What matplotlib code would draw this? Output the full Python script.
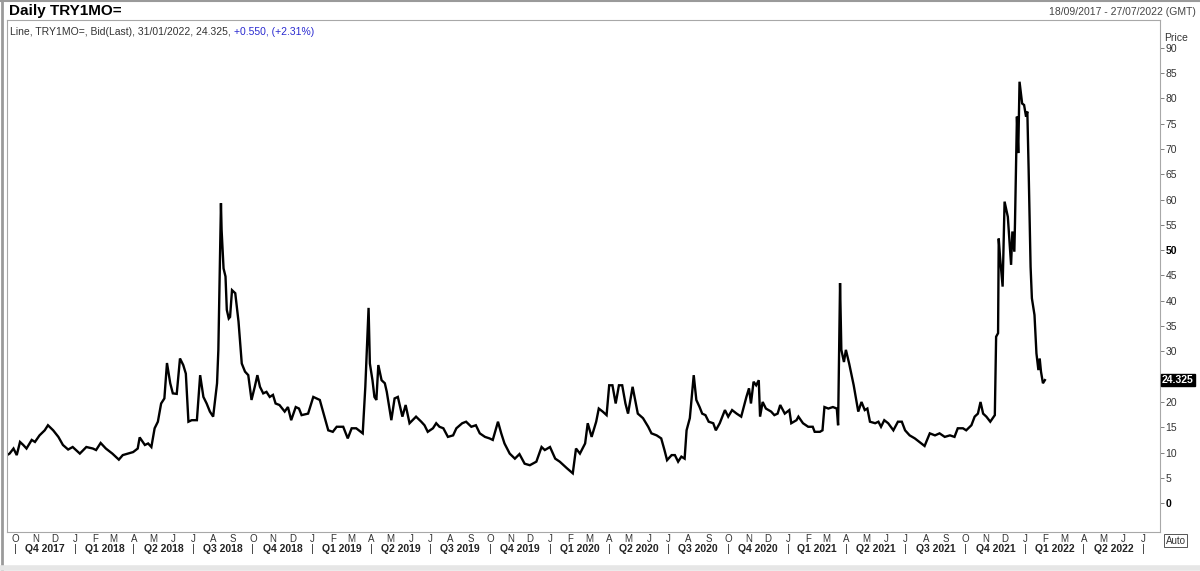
import numpy as np
import pandas as pd
import matplotlib
matplotlib.use("Agg")
import matplotlib.pyplot as plt
import matplotlib.dates as mdates
import matplotlib.transforms as mtransforms
from matplotlib.lines import Line2D

plt.rcParams['font.family'] = ['Liberation Sans', 'DejaVu Sans']

# TRY1MO= bid (last)
dates = [
    "2017-09-18", "2017-09-22", "2017-09-28", "2017-10-03", "2017-10-08", "2017-10-13", "2017-10-18",
    "2017-10-26", "2017-10-31", "2017-11-07", "2017-11-15", "2017-11-20", "2017-11-28", "2017-12-06",
    "2017-12-13", "2017-12-21", "2017-12-28", "2018-01-08", "2018-01-18", "2018-01-28", "2018-02-02",
    "2018-02-09", "2018-02-17", "2018-02-27", "2018-03-09", "2018-03-15", "2018-03-23", "2018-03-31",
    "2018-04-07", "2018-04-10", "2018-04-18", "2018-04-23", "2018-04-28", "2018-05-03", "2018-05-08",
    "2018-05-13", "2018-05-18", "2018-05-22", "2018-05-27", "2018-05-31", "2018-06-06", "2018-06-11",
    "2018-06-16", "2018-06-20", "2018-06-24", "2018-06-29", "2018-07-07", "2018-07-12", "2018-07-17",
    "2018-07-22", "2018-07-27", "2018-08-01", "2018-08-07", "2018-08-09", "2018-08-13", "2018-08-14",
    "2018-08-17", "2018-08-20", "2018-08-22", "2018-08-25", "2018-08-27", "2018-08-30", "2018-09-04",
    "2018-09-09", "2018-09-14", "2018-09-19", "2018-09-24", "2018-09-29", "2018-10-04", "2018-10-08",
    "2018-10-12", "2018-10-17", "2018-10-22", "2018-10-27", "2018-11-01", "2018-11-05", "2018-11-11",
    "2018-11-19", "2018-11-24", "2018-11-29", "2018-12-06", "2018-12-11", "2018-12-15", "2018-12-25",
    "2019-01-02", "2019-01-12", "2019-01-17", "2019-01-25", "2019-02-01", "2019-02-07", "2019-02-17",
    "2019-02-24", "2019-03-02", "2019-03-09", "2019-03-19", "2019-03-23", "2019-03-28", "2019-03-30",
    "2019-04-03", "2019-04-06", "2019-04-09", "2019-04-12", "2019-04-17", "2019-04-22", "2019-04-25",
    "2019-05-02", "2019-05-07", "2019-05-12", "2019-05-19", "2019-05-24", "2019-05-30", "2019-06-09",
    "2019-06-17", "2019-06-22", "2019-06-27", "2019-07-05", "2019-07-10", "2019-07-15", "2019-07-21",
    "2019-07-28", "2019-08-05", "2019-08-10", "2019-08-19", "2019-08-25", "2019-09-02", "2019-09-09",
    "2019-09-15", "2019-09-23", "2019-09-30", "2019-10-05", "2019-10-13", "2019-10-18", "2019-10-23",
    "2019-10-31", "2019-11-08", "2019-11-15", "2019-11-23", "2019-12-01", "2019-12-11", "2019-12-19",
    "2019-12-24", "2020-01-01", "2020-01-09", "2020-01-16", "2020-01-27", "2020-02-05", "2020-02-10",
    "2020-02-16", "2020-02-24", "2020-02-28", "2020-03-05", "2020-03-12", "2020-03-16", "2020-03-22",
    "2020-03-28", "2020-04-01", "2020-04-06", "2020-04-11", "2020-04-16", "2020-04-21", "2020-04-26",
    "2020-04-30", "2020-05-07", "2020-05-11", "2020-05-15", "2020-05-23", "2020-05-31", "2020-06-05",
    "2020-06-13", "2020-06-20", "2020-06-25", "2020-06-29", "2020-07-06", "2020-07-11", "2020-07-16",
    "2020-07-21", "2020-07-26", "2020-07-29", "2020-08-03", "2020-08-06", "2020-08-09", "2020-08-13",
    "2020-08-18", "2020-08-22", "2020-08-27", "2020-09-01", "2020-09-08", "2020-09-12", "2020-09-18",
    "2020-09-22", "2020-09-26", "2020-10-01", "2020-10-07", "2020-10-14", "2020-10-21", "2020-10-29",
    "2020-11-02", "2020-11-05", "2020-11-09", "2020-11-13", "2020-11-17", "2020-11-19", "2020-11-23",
    "2020-11-28", "2020-12-06", "2020-12-11", "2020-12-16", "2020-12-20", "2020-12-27", "2021-01-03",
    "2021-01-06", "2021-01-14", "2021-01-17", "2021-01-24", "2021-02-01", "2021-02-08", "2021-02-11",
    "2021-02-19", "2021-02-23", "2021-02-26", "2021-03-04", "2021-03-11", "2021-03-17", "2021-03-19",
    "2021-03-22", "2021-03-24", "2021-03-28", "2021-03-31", "2021-04-05", "2021-04-12", "2021-04-16",
    "2021-04-19", "2021-04-24", "2021-04-29", "2021-05-03", "2021-05-07", "2021-05-15", "2021-05-20",
    "2021-05-24", "2021-05-29", "2021-06-04", "2021-06-12", "2021-06-19", "2021-06-25", "2021-06-30",
    "2021-07-07", "2021-07-15", "2021-07-22", "2021-07-30", "2021-08-07", "2021-08-15", "2021-08-22",
    "2021-08-30", "2021-09-07", "2021-09-14", "2021-09-19", "2021-09-27", "2021-10-02", "2021-10-10",
    "2021-10-15", "2021-10-20", "2021-10-24", "2021-10-28", "2021-11-02", "2021-11-08", "2021-11-15",
    "2021-11-17", "2021-11-20", "2021-11-21", "2021-11-23", "2021-11-27", "2021-11-30", "2021-12-05",
    "2021-12-10", "2021-12-12", "2021-12-15", "2021-12-16", "2021-12-19", "2021-12-21", "2021-12-23",
    "2021-12-27", "2021-12-30", "2022-01-02", "2022-01-04", "2022-01-06", "2022-01-09", "2022-01-11",
    "2022-01-15", "2022-01-18", "2022-01-21", "2022-01-23", "2022-01-25", "2022-01-28", "2022-01-31",
]
prices = [
    9.5, 9.8, 10.8, 9.5, 12.1, 11.5, 10.8,
    12.5, 12.1, 13.4, 14.4, 15.4, 14.4, 13.1,
    11.5, 10.6, 11.1, 9.8, 11.1, 10.8, 10.5,
    11.9, 10.8, 9.8, 8.6, 9.5, 9.8, 10.1,
    10.8, 13.0, 11.5, 11.8, 11.1, 14.8, 16.1,
    19.7, 20.7, 27.7, 23.7, 21.7, 21.6, 28.6,
    27.3, 25.6, 16.1, 16.4, 16.4, 25.3, 21.0,
    19.7, 18.1, 17.1, 23.7, 30.3, 59.3, 54.0,
    46.4, 44.8, 38.2, 36.5, 36.8, 42.1, 41.5,
    35.9, 27.6, 26.0, 25.3, 20.4, 23.0, 25.3,
    23.0, 21.7, 22.0, 21.0, 21.4, 19.7, 19.4,
    18.1, 19.0, 16.4, 19.0, 18.7, 17.4, 17.7,
    21.0, 20.4, 18.1, 14.4, 14.1, 15.1, 15.1,
    12.8, 14.8, 14.8, 13.8, 23.0, 38.6, 27.6,
    24.3, 21.0, 20.4, 27.3, 24.3, 23.7, 22.0,
    16.4, 20.7, 21.0, 17.1, 19.4, 15.8, 17.1,
    16.1, 15.4, 14.1, 14.8, 15.8, 15.1, 14.8,
    13.1, 13.4, 14.8, 15.8, 16.1, 15.1, 15.4,
    13.8, 13.1, 12.8, 12.5, 16.1, 13.8, 11.8,
    9.8, 8.8, 9.7, 7.8, 7.5, 8.2, 11.1,
    10.5, 11.1, 8.8, 8.2, 6.9, 5.9, 10.8,
    9.8, 11.8, 15.8, 13.1, 16.1, 18.7, 18.1,
    17.4, 23.3, 23.3, 19.7, 23.3, 23.3, 19.7,
    17.7, 23.0, 20.4, 17.7, 16.8, 15.1, 13.8,
    13.4, 12.8, 10.5, 8.5, 9.5, 9.5, 8.2,
    9.2, 8.8, 14.4, 16.8, 21.0, 25.3, 20.4,
    19.0, 17.7, 17.4, 16.1, 15.8, 14.4, 15.8,
    17.1, 18.4, 17.1, 18.4, 17.7, 17.1, 21.0,
    22.7, 19.7, 24.0, 23.3, 24.3, 17.1, 20.0,
    18.7, 18.1, 17.4, 17.7, 19.4, 17.7, 18.4,
    15.8, 16.4, 17.1, 15.8, 15.1, 15.1, 14.1,
    14.1, 14.4, 19.0, 18.7, 19.0, 18.7, 15.4,
    43.5, 30.3, 27.9, 30.3, 27.6, 23.3, 20.4,
    18.1, 20.0, 18.4, 18.7, 16.1, 15.8, 16.1,
    15.1, 16.4, 15.8, 14.4, 16.1, 16.1, 14.4,
    13.4, 12.8, 12.1, 11.3, 13.8, 13.4, 13.8,
    13.1, 13.4, 13.1, 14.8, 14.8, 14.4, 15.4,
    17.1, 17.7, 20.0, 17.7, 17.1, 16.1, 17.4,
    32.9, 33.6, 52.3, 48.7, 42.8, 59.6, 56.6,
    47.1, 53.7, 49.7, 55.3, 76.4, 69.2, 83.3,
    79.0, 78.7, 76.4, 77.4, 65.9, 46.7, 40.5,
    37.2, 29.6, 26.3, 28.6, 26.0, 23.7, 24.325,
]

last_value = 24.325
y_ticks = list(range(0, 95, 5))
bold_ticks = [0, 50]
hidden_ticks = [25]  # covered by the last-value box
start_date = "2017-09-18"
end_date = "2022-07-27"

x = pd.to_datetime(dates)
W, H = 1200, 571

fig = plt.figure(figsize=(12, 5.71), dpi=100)
ax = fig.add_axes([7 / W, 1 - 532 / H, (1160 - 7) / W, (532 - 20) / H])

ax.plot(x, prices, color='black', lw=1.7, solid_joinstyle='miter')

ax.set_xlim(pd.Timestamp(start_date), pd.Timestamp(end_date))
ax.set_ylim(-5.7, 95.5)

for s in ax.spines.values():
    s.set_color('#a8a8a8')
    s.set_linewidth(0.8)

ax.yaxis.tick_right()
ax.set_yticks(y_ticks)
ax.set_yticklabels(["" if v in hidden_ticks else str(v) for v in y_ticks])
ax.tick_params(axis='y', direction='out', length=3, width=0.7, color='#808080',
               labelsize=7.5, labelcolor='#333333', pad=1)
for lab, v in zip(ax.get_yticklabels(), y_ticks):
    if v in bold_ticks:
        lab.set_fontweight('bold')
        lab.set_color('black')
ax.set_xticks([])

# month letters and quarter labels below the plot
trans = mtransforms.blended_transform_factory(ax.transData, ax.transAxes)
months = pd.date_range("2017-10-01", "2022-07-01", freq="MS")
for m in months:
    ax.text(m, -0.013, m.strftime("%b")[0], transform=trans, ha='center', va='center',
            fontsize=7, color='#333333')
qstarts = pd.date_range("2017-10-01", "2022-07-01", freq="QS")
for q in qstarts:
    ax.text(q, -0.034, "|", transform=trans, ha='center', va='center',
            fontsize=8, color='#333333')
for q0, q1 in zip(qstarts[:-1], qstarts[1:]):
    mid = q0 + (q1 - q0) / 2
    ax.text(mid, -0.034, "Q%d %d" % (q0.quarter, q0.year), transform=trans,
            ha='center', va='center', fontsize=7.5, fontweight='bold', color='#222222')

# last value marker on the price axis
ytrans = mtransforms.blended_transform_factory(ax.transAxes, ax.transData)
ax.annotate("%.3f" % last_value, xy=(1, last_value), xycoords=ytrans,
            xytext=(1.5, 0), textcoords='offset points', ha='left', va='center',
            fontsize=7.5, fontweight='bold', color='white', annotation_clip=False,
            bbox=dict(boxstyle='square,pad=0.12', fc='black', ec='black'))

ax.text(1.004, 0.965, "Price", transform=ax.transAxes, ha='left', va='center',
        fontsize=7.5, color='#333333')
ax.text(1.005, -0.017, "Auto", transform=ax.transAxes, ha='left', va='center',
        fontsize=7, color='#333333',
        bbox=dict(boxstyle='square,pad=0.15', fc='white', ec='#555555', lw=0.7))

# legend line inside the plot
t1 = ax.text(0.003, 0.987, "Line, TRY1MO=, Bid(Last), 31/01/2022, 24.325, ",
             transform=ax.transAxes, ha='left', va='top', fontsize=7.5, color='#333333')
ax.annotate("+0.550, (+2.31%)", xycoords=t1, xy=(1, 0), va='bottom', ha='left',
            fontsize=7.5, color='#2a2ad0')

# header
fig.text(9 / W, 1 - 11 / H, "Daily TRY1MO=", ha='left', va='center',
         fontsize=11, fontweight='bold', color='black')
fig.text(1196 / W, 1 - 12 / H, "18/09/2017 - 27/07/2022 (GMT)", ha='right', va='center',
         fontsize=7.5, color='#444444')

# frame around the figure
fig.add_artist(Line2D([0, 1], [1 - 1 / H, 1 - 1 / H], transform=fig.transFigure,
                      color='#9a9a9a', lw=1.5))
fig.add_artist(Line2D([1.5 / W, 1.5 / W], [0, 1], transform=fig.transFigure,
                      color='#9a9a9a', lw=2))
fig.add_artist(Line2D([0, 1], [3 / H, 3 / H], transform=fig.transFigure,
                      color='#e6e6e6', lw=4))

fig.savefig("out.png", dpi=100)
